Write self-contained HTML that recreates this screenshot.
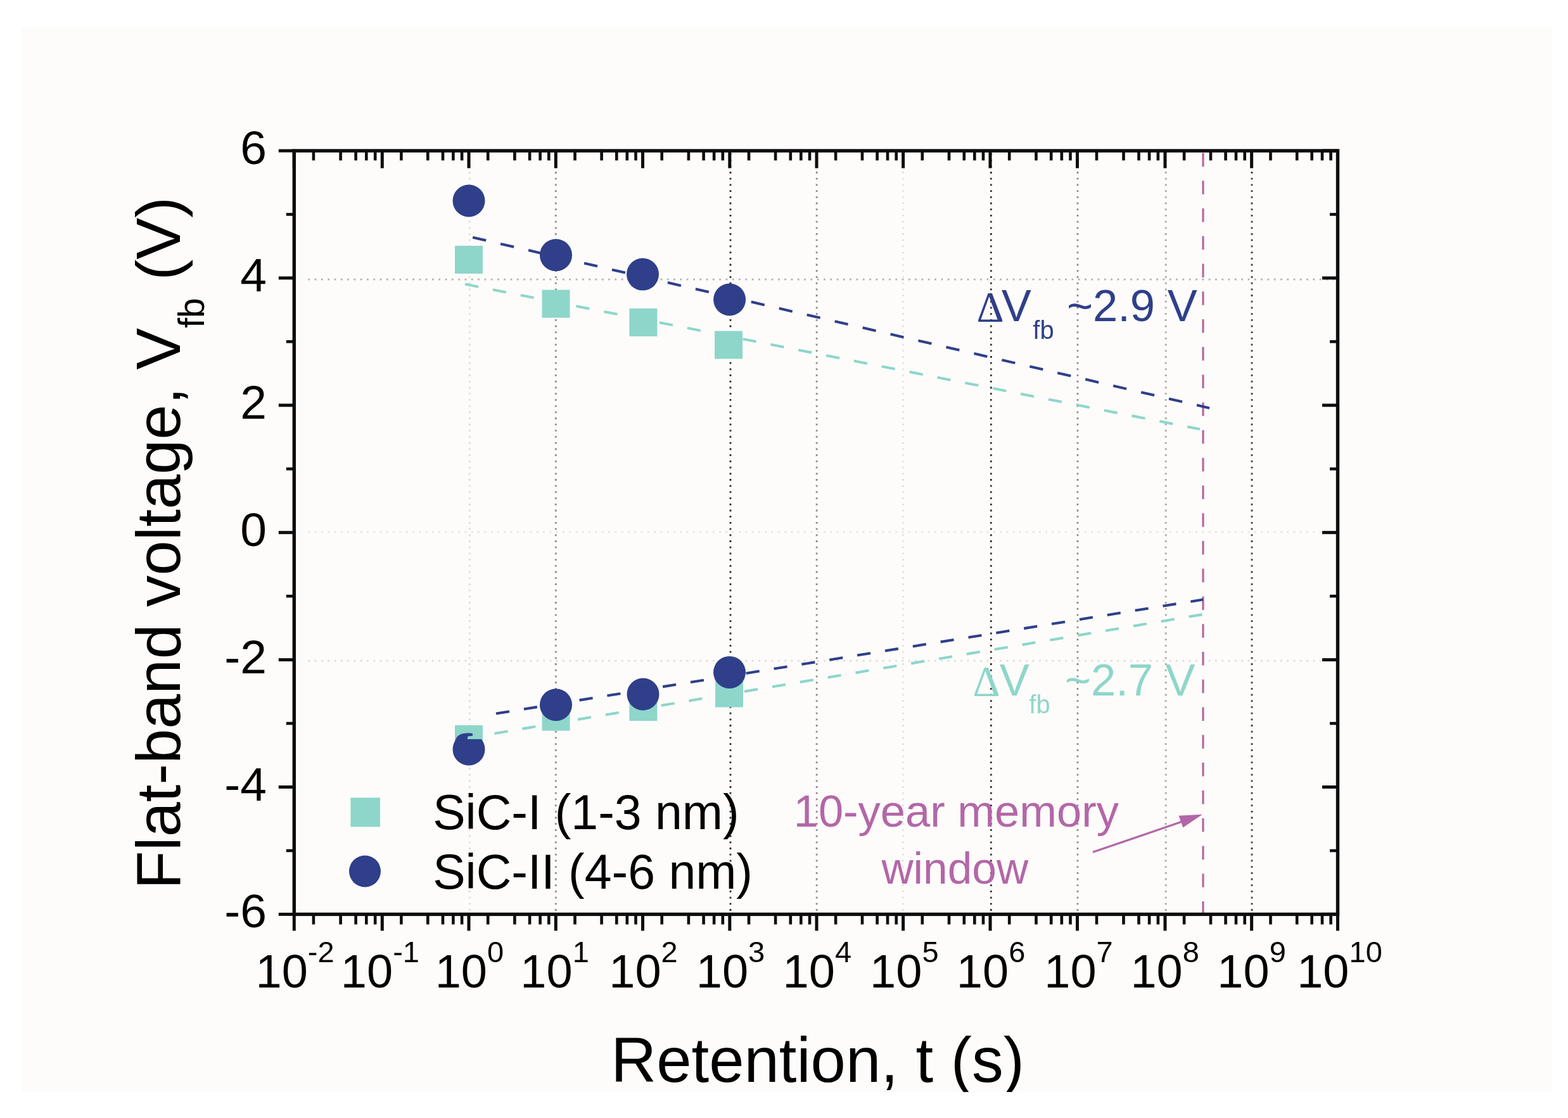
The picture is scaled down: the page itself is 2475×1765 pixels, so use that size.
<!DOCTYPE html>
<html><head><meta charset="utf-8"><title>Flat-band voltage retention</title>
<style>html,body{margin:0;padding:0;background:#fff;}body{width:2475px;height:1765px;overflow:hidden;}svg{display:block;}</style>
</head><body>
<svg width="2475" height="1765" viewBox="0 0 2475 1765">
<defs><clipPath id="pc"><rect x="34" y="43" width="2415" height="1681"/></clipPath></defs>
<rect x="0" y="0" width="2475" height="1765" fill="#ffffff"/>
<rect x="34" y="43" width="2415" height="1681" fill="#fdfcfa"/>
<g clip-path="url(#pc)">
<line x1="741.3" y1="242.0" x2="741.3" y2="1440.4" stroke="#dcdcdc" stroke-width="2.8" stroke-dasharray="2.8 6.9"/>
<line x1="877.3" y1="242.0" x2="877.3" y2="1440.4" stroke="#8c8c8c" stroke-width="2.8" stroke-dasharray="2.8 6.9"/>
<line x1="1153" y1="242.0" x2="1153" y2="1440.4" stroke="#2a2a2a" stroke-width="2.8" stroke-dasharray="2.8 6.9"/>
<line x1="1289.2" y1="242.0" x2="1289.2" y2="1440.4" stroke="#8c8c8c" stroke-width="2.8" stroke-dasharray="2.8 6.9"/>
<line x1="1425.4" y1="242.0" x2="1425.4" y2="1440.4" stroke="#e2e2e2" stroke-width="2.8" stroke-dasharray="2.8 6.9"/>
<line x1="1564.3" y1="242.0" x2="1564.3" y2="1440.4" stroke="#303030" stroke-width="2.8" stroke-dasharray="2.8 6.9"/>
<line x1="1701" y1="242.0" x2="1701" y2="1440.4" stroke="#8c8c8c" stroke-width="2.8" stroke-dasharray="2.8 6.9"/>
<line x1="1840.2" y1="242.0" x2="1840.2" y2="1440.4" stroke="#a8a8a8" stroke-width="2.8" stroke-dasharray="2.8 6.9"/>
<line x1="1976" y1="242.0" x2="1976" y2="1440.4" stroke="#404040" stroke-width="2.8" stroke-dasharray="2.8 6.9"/>
<line x1="486.3" y1="441.1" x2="2108.5" y2="441.1" stroke="#b2b2b2" stroke-width="2.8" stroke-dasharray="2.8 7.5"/>
<line x1="486.3" y1="839.8" x2="2108.5" y2="839.8" stroke="#e4e4e4" stroke-width="2.8" stroke-dasharray="2.8 7.5"/>
<line x1="486.3" y1="1043.2" x2="2108.5" y2="1043.2" stroke="#dcdcdc" stroke-width="2.8" stroke-dasharray="2.8 7.5"/>
<line x1="1899" y1="241.4" x2="1899" y2="1443.4" stroke="#b367a7" stroke-width="3.2" stroke-dasharray="21.5 22.26"/>
<line x1="734" y1="448.6" x2="1894" y2="677.6" stroke="#8ed6ca" stroke-width="4.1" stroke-dasharray="21.41 23.29"/>
<line x1="746.2" y1="374.7" x2="1909" y2="644.2" stroke="#2f3f8a" stroke-width="4.1" stroke-dasharray="21.56 23.56"/>
<line x1="780.5" y1="1158" x2="1900" y2="969.7" stroke="#8ed6ca" stroke-width="4.1" stroke-dasharray="21.29 23.17"/>
<line x1="783" y1="1126.6" x2="1899" y2="946.5" stroke="#2f3f8a" stroke-width="4.1" stroke-dasharray="21.27 23.15"/>
<rect x="718.0" y="388.0" width="44" height="44" fill="#8ed6ca"/>
<rect x="855.5" y="457.6" width="44" height="44" fill="#8ed6ca"/>
<rect x="993.4" y="487.0" width="44" height="44" fill="#8ed6ca"/>
<rect x="1128.0" y="522.5" width="44" height="44" fill="#8ed6ca"/>
<rect x="718.0" y="1145.0" width="44" height="44" fill="#8ed6ca"/>
<rect x="855.5" y="1109.7" width="44" height="44" fill="#8ed6ca"/>
<rect x="993.4" y="1094.0" width="44" height="44" fill="#8ed6ca"/>
<rect x="1129.0" y="1072.5" width="44" height="44" fill="#8ed6ca"/>
<circle cx="740" cy="317" r="25.5" fill="#2f3f8a"/>
<circle cx="877.5" cy="402.7" r="25.5" fill="#2f3f8a"/>
<circle cx="1014.5" cy="433.1" r="25.5" fill="#2f3f8a"/>
<circle cx="1151.6" cy="473" r="25.5" fill="#2f3f8a"/>
<circle cx="740" cy="1183" r="25.5" fill="#2f3f8a"/>
<circle cx="877.5" cy="1112.8" r="25.5" fill="#2f3f8a"/>
<circle cx="1015" cy="1096" r="25.5" fill="#2f3f8a"/>
<circle cx="1151.5" cy="1061.4" r="25.5" fill="#2f3f8a"/>
<rect x="718.1" y="1145.1" width="43.6" height="21.8" fill="#8ed6ca"/>
<path d="M718.6,1172 L719.5,1166 Q723,1160.5 729,1158.6 Q734,1157.3 741,1157.3 L745.8,1158 L746.2,1161.6 L738.6,1162.6 L737.6,1166.9 L718.6,1166.9 Z" fill="#2f3f8a"/>
<g stroke="#0d0d0d" fill="none">
<rect x="464.3" y="238.0" width="1647.2" height="1205.4" stroke-width="5.4"/>
<line x1="439.8" y1="1443.4" x2="464.3" y2="1443.4" stroke-width="5"/>
<line x1="2087.0" y1="1443.4" x2="2111.5" y2="1443.4" stroke-width="5"/>
<line x1="439.8" y1="1242.5" x2="464.3" y2="1242.5" stroke-width="5"/>
<line x1="2087.0" y1="1242.5" x2="2111.5" y2="1242.5" stroke-width="5"/>
<line x1="439.8" y1="1041.6000000000001" x2="464.3" y2="1041.6000000000001" stroke-width="5"/>
<line x1="2087.0" y1="1041.6000000000001" x2="2111.5" y2="1041.6000000000001" stroke-width="5"/>
<line x1="439.8" y1="840.7" x2="464.3" y2="840.7" stroke-width="5"/>
<line x1="2087.0" y1="840.7" x2="2111.5" y2="840.7" stroke-width="5"/>
<line x1="439.8" y1="639.8000000000001" x2="464.3" y2="639.8000000000001" stroke-width="5"/>
<line x1="2087.0" y1="639.8000000000001" x2="2111.5" y2="639.8000000000001" stroke-width="5"/>
<line x1="439.8" y1="438.90000000000003" x2="464.3" y2="438.90000000000003" stroke-width="5"/>
<line x1="2087.0" y1="438.90000000000003" x2="2111.5" y2="438.90000000000003" stroke-width="5"/>
<line x1="439.8" y1="238.0" x2="464.3" y2="238.0" stroke-width="5"/>
<line x1="2087.0" y1="238.0" x2="2111.5" y2="238.0" stroke-width="5"/>
<line x1="451.8" y1="1342.95" x2="464.3" y2="1342.95" stroke-width="4.6"/>
<line x1="2099.0" y1="1342.95" x2="2111.5" y2="1342.95" stroke-width="4.6"/>
<line x1="451.8" y1="1142.0500000000002" x2="464.3" y2="1142.0500000000002" stroke-width="4.6"/>
<line x1="2099.0" y1="1142.0500000000002" x2="2111.5" y2="1142.0500000000002" stroke-width="4.6"/>
<line x1="451.8" y1="941.1500000000001" x2="464.3" y2="941.1500000000001" stroke-width="4.6"/>
<line x1="2099.0" y1="941.1500000000001" x2="2111.5" y2="941.1500000000001" stroke-width="4.6"/>
<line x1="451.8" y1="740.25" x2="464.3" y2="740.25" stroke-width="4.6"/>
<line x1="2099.0" y1="740.25" x2="2111.5" y2="740.25" stroke-width="4.6"/>
<line x1="451.8" y1="539.35" x2="464.3" y2="539.35" stroke-width="4.6"/>
<line x1="2099.0" y1="539.35" x2="2111.5" y2="539.35" stroke-width="4.6"/>
<line x1="451.8" y1="338.45000000000005" x2="464.3" y2="338.45000000000005" stroke-width="4.6"/>
<line x1="2099.0" y1="338.45000000000005" x2="2111.5" y2="338.45000000000005" stroke-width="4.6"/>
<line x1="464.3" y1="238.0" x2="464.3" y2="265.5" stroke-width="5"/>
<line x1="464.3" y1="1443.4" x2="464.3" y2="1469.4" stroke-width="5"/>
<line x1="494.9" y1="238.0" x2="494.9" y2="253.3" stroke-width="4.6"/>
<line x1="494.9" y1="1443.4" x2="494.9" y2="1459.4" stroke-width="4.6"/>
<line x1="537.6" y1="238.0" x2="537.6" y2="253.3" stroke-width="4.6"/>
<line x1="537.6" y1="1443.4" x2="537.6" y2="1459.4" stroke-width="4.6"/>
<line x1="561.6" y1="238.0" x2="561.6" y2="253.3" stroke-width="4.6"/>
<line x1="561.6" y1="1443.4" x2="561.6" y2="1459.4" stroke-width="4.6"/>
<line x1="578.3" y1="238.0" x2="578.3" y2="253.3" stroke-width="4.6"/>
<line x1="578.3" y1="1443.4" x2="578.3" y2="1459.4" stroke-width="4.6"/>
<line x1="592.2" y1="238.0" x2="592.2" y2="253.3" stroke-width="4.6"/>
<line x1="592.2" y1="1443.4" x2="592.2" y2="1459.4" stroke-width="4.6"/>
<line x1="603.3" y1="238.0" x2="603.3" y2="265.5" stroke-width="5"/>
<line x1="603.3" y1="1443.4" x2="603.3" y2="1469.4" stroke-width="5"/>
<line x1="633.4" y1="238.0" x2="633.4" y2="253.3" stroke-width="4.6"/>
<line x1="633.4" y1="1443.4" x2="633.4" y2="1459.4" stroke-width="4.6"/>
<line x1="675.3" y1="238.0" x2="675.3" y2="253.3" stroke-width="4.6"/>
<line x1="675.3" y1="1443.4" x2="675.3" y2="1459.4" stroke-width="4.6"/>
<line x1="699.0" y1="238.0" x2="699.0" y2="253.3" stroke-width="4.6"/>
<line x1="699.0" y1="1443.4" x2="699.0" y2="1459.4" stroke-width="4.6"/>
<line x1="715.4" y1="238.0" x2="715.4" y2="253.3" stroke-width="4.6"/>
<line x1="715.4" y1="1443.4" x2="715.4" y2="1459.4" stroke-width="4.6"/>
<line x1="729.1" y1="238.0" x2="729.1" y2="253.3" stroke-width="4.6"/>
<line x1="729.1" y1="1443.4" x2="729.1" y2="1459.4" stroke-width="4.6"/>
<line x1="740.0" y1="238.0" x2="740.0" y2="265.5" stroke-width="5"/>
<line x1="740.0" y1="1443.4" x2="740.0" y2="1469.4" stroke-width="5"/>
<line x1="770.2" y1="238.0" x2="770.2" y2="253.3" stroke-width="4.6"/>
<line x1="770.2" y1="1443.4" x2="770.2" y2="1459.4" stroke-width="4.6"/>
<line x1="812.4" y1="238.0" x2="812.4" y2="253.3" stroke-width="4.6"/>
<line x1="812.4" y1="1443.4" x2="812.4" y2="1459.4" stroke-width="4.6"/>
<line x1="836.1" y1="238.0" x2="836.1" y2="253.3" stroke-width="4.6"/>
<line x1="836.1" y1="1443.4" x2="836.1" y2="1459.4" stroke-width="4.6"/>
<line x1="852.6" y1="238.0" x2="852.6" y2="253.3" stroke-width="4.6"/>
<line x1="852.6" y1="1443.4" x2="852.6" y2="1459.4" stroke-width="4.6"/>
<line x1="866.3" y1="238.0" x2="866.3" y2="253.3" stroke-width="4.6"/>
<line x1="866.3" y1="1443.4" x2="866.3" y2="1459.4" stroke-width="4.6"/>
<line x1="877.3" y1="238.0" x2="877.3" y2="265.5" stroke-width="5"/>
<line x1="877.3" y1="1443.4" x2="877.3" y2="1469.4" stroke-width="5"/>
<line x1="907.5" y1="238.0" x2="907.5" y2="253.3" stroke-width="4.6"/>
<line x1="907.5" y1="1443.4" x2="907.5" y2="1459.4" stroke-width="4.6"/>
<line x1="949.6" y1="238.0" x2="949.6" y2="253.3" stroke-width="4.6"/>
<line x1="949.6" y1="1443.4" x2="949.6" y2="1459.4" stroke-width="4.6"/>
<line x1="973.3" y1="238.0" x2="973.3" y2="253.3" stroke-width="4.6"/>
<line x1="973.3" y1="1443.4" x2="973.3" y2="1459.4" stroke-width="4.6"/>
<line x1="989.8" y1="238.0" x2="989.8" y2="253.3" stroke-width="4.6"/>
<line x1="989.8" y1="1443.4" x2="989.8" y2="1459.4" stroke-width="4.6"/>
<line x1="1003.5" y1="238.0" x2="1003.5" y2="253.3" stroke-width="4.6"/>
<line x1="1003.5" y1="1443.4" x2="1003.5" y2="1459.4" stroke-width="4.6"/>
<line x1="1014.5" y1="238.0" x2="1014.5" y2="265.5" stroke-width="5"/>
<line x1="1014.5" y1="1443.4" x2="1014.5" y2="1469.4" stroke-width="5"/>
<line x1="1044.7" y1="238.0" x2="1044.7" y2="253.3" stroke-width="4.6"/>
<line x1="1044.7" y1="1443.4" x2="1044.7" y2="1459.4" stroke-width="4.6"/>
<line x1="1086.9" y1="238.0" x2="1086.9" y2="253.3" stroke-width="4.6"/>
<line x1="1086.9" y1="1443.4" x2="1086.9" y2="1459.4" stroke-width="4.6"/>
<line x1="1110.6" y1="238.0" x2="1110.6" y2="253.3" stroke-width="4.6"/>
<line x1="1110.6" y1="1443.4" x2="1110.6" y2="1459.4" stroke-width="4.6"/>
<line x1="1127.1" y1="238.0" x2="1127.1" y2="253.3" stroke-width="4.6"/>
<line x1="1127.1" y1="1443.4" x2="1127.1" y2="1459.4" stroke-width="4.6"/>
<line x1="1140.8" y1="238.0" x2="1140.8" y2="253.3" stroke-width="4.6"/>
<line x1="1140.8" y1="1443.4" x2="1140.8" y2="1459.4" stroke-width="4.6"/>
<line x1="1151.8" y1="238.0" x2="1151.8" y2="265.5" stroke-width="5"/>
<line x1="1151.8" y1="1443.4" x2="1151.8" y2="1469.4" stroke-width="5"/>
<line x1="1182.0" y1="238.0" x2="1182.0" y2="253.3" stroke-width="4.6"/>
<line x1="1182.0" y1="1443.4" x2="1182.0" y2="1459.4" stroke-width="4.6"/>
<line x1="1224.1" y1="238.0" x2="1224.1" y2="253.3" stroke-width="4.6"/>
<line x1="1224.1" y1="1443.4" x2="1224.1" y2="1459.4" stroke-width="4.6"/>
<line x1="1247.8" y1="238.0" x2="1247.8" y2="253.3" stroke-width="4.6"/>
<line x1="1247.8" y1="1443.4" x2="1247.8" y2="1459.4" stroke-width="4.6"/>
<line x1="1264.3" y1="238.0" x2="1264.3" y2="253.3" stroke-width="4.6"/>
<line x1="1264.3" y1="1443.4" x2="1264.3" y2="1459.4" stroke-width="4.6"/>
<line x1="1278.0" y1="238.0" x2="1278.0" y2="253.3" stroke-width="4.6"/>
<line x1="1278.0" y1="1443.4" x2="1278.0" y2="1459.4" stroke-width="4.6"/>
<line x1="1289.0" y1="238.0" x2="1289.0" y2="265.5" stroke-width="5"/>
<line x1="1289.0" y1="1443.4" x2="1289.0" y2="1469.4" stroke-width="5"/>
<line x1="1319.1" y1="238.0" x2="1319.1" y2="253.3" stroke-width="4.6"/>
<line x1="1319.1" y1="1443.4" x2="1319.1" y2="1459.4" stroke-width="4.6"/>
<line x1="1361.0" y1="238.0" x2="1361.0" y2="253.3" stroke-width="4.6"/>
<line x1="1361.0" y1="1443.4" x2="1361.0" y2="1459.4" stroke-width="4.6"/>
<line x1="1384.6" y1="238.0" x2="1384.6" y2="253.3" stroke-width="4.6"/>
<line x1="1384.6" y1="1443.4" x2="1384.6" y2="1459.4" stroke-width="4.6"/>
<line x1="1401.0" y1="238.0" x2="1401.0" y2="253.3" stroke-width="4.6"/>
<line x1="1401.0" y1="1443.4" x2="1401.0" y2="1459.4" stroke-width="4.6"/>
<line x1="1414.7" y1="238.0" x2="1414.7" y2="253.3" stroke-width="4.6"/>
<line x1="1414.7" y1="1443.4" x2="1414.7" y2="1459.4" stroke-width="4.6"/>
<line x1="1425.6" y1="238.0" x2="1425.6" y2="265.5" stroke-width="5"/>
<line x1="1425.6" y1="1443.4" x2="1425.6" y2="1469.4" stroke-width="5"/>
<line x1="1455.8" y1="238.0" x2="1455.8" y2="253.3" stroke-width="4.6"/>
<line x1="1455.8" y1="1443.4" x2="1455.8" y2="1459.4" stroke-width="4.6"/>
<line x1="1498.0" y1="238.0" x2="1498.0" y2="253.3" stroke-width="4.6"/>
<line x1="1498.0" y1="1443.4" x2="1498.0" y2="1459.4" stroke-width="4.6"/>
<line x1="1521.8" y1="238.0" x2="1521.8" y2="253.3" stroke-width="4.6"/>
<line x1="1521.8" y1="1443.4" x2="1521.8" y2="1459.4" stroke-width="4.6"/>
<line x1="1538.3" y1="238.0" x2="1538.3" y2="253.3" stroke-width="4.6"/>
<line x1="1538.3" y1="1443.4" x2="1538.3" y2="1459.4" stroke-width="4.6"/>
<line x1="1552.0" y1="238.0" x2="1552.0" y2="253.3" stroke-width="4.6"/>
<line x1="1552.0" y1="1443.4" x2="1552.0" y2="1459.4" stroke-width="4.6"/>
<line x1="1563.0" y1="238.0" x2="1563.0" y2="265.5" stroke-width="5"/>
<line x1="1563.0" y1="1443.4" x2="1563.0" y2="1469.4" stroke-width="5"/>
<line x1="1593.2" y1="238.0" x2="1593.2" y2="253.3" stroke-width="4.6"/>
<line x1="1593.2" y1="1443.4" x2="1593.2" y2="1459.4" stroke-width="4.6"/>
<line x1="1635.5" y1="238.0" x2="1635.5" y2="253.3" stroke-width="4.6"/>
<line x1="1635.5" y1="1443.4" x2="1635.5" y2="1459.4" stroke-width="4.6"/>
<line x1="1659.2" y1="238.0" x2="1659.2" y2="253.3" stroke-width="4.6"/>
<line x1="1659.2" y1="1443.4" x2="1659.2" y2="1459.4" stroke-width="4.6"/>
<line x1="1675.8" y1="238.0" x2="1675.8" y2="253.3" stroke-width="4.6"/>
<line x1="1675.8" y1="1443.4" x2="1675.8" y2="1459.4" stroke-width="4.6"/>
<line x1="1689.5" y1="238.0" x2="1689.5" y2="253.3" stroke-width="4.6"/>
<line x1="1689.5" y1="1443.4" x2="1689.5" y2="1459.4" stroke-width="4.6"/>
<line x1="1700.5" y1="238.0" x2="1700.5" y2="265.5" stroke-width="5"/>
<line x1="1700.5" y1="1443.4" x2="1700.5" y2="1469.4" stroke-width="5"/>
<line x1="1731.0" y1="238.0" x2="1731.0" y2="253.3" stroke-width="4.6"/>
<line x1="1731.0" y1="1443.4" x2="1731.0" y2="1459.4" stroke-width="4.6"/>
<line x1="1773.5" y1="238.0" x2="1773.5" y2="253.3" stroke-width="4.6"/>
<line x1="1773.5" y1="1443.4" x2="1773.5" y2="1459.4" stroke-width="4.6"/>
<line x1="1797.5" y1="238.0" x2="1797.5" y2="253.3" stroke-width="4.6"/>
<line x1="1797.5" y1="1443.4" x2="1797.5" y2="1459.4" stroke-width="4.6"/>
<line x1="1814.1" y1="238.0" x2="1814.1" y2="253.3" stroke-width="4.6"/>
<line x1="1814.1" y1="1443.4" x2="1814.1" y2="1459.4" stroke-width="4.6"/>
<line x1="1827.9" y1="238.0" x2="1827.9" y2="253.3" stroke-width="4.6"/>
<line x1="1827.9" y1="1443.4" x2="1827.9" y2="1459.4" stroke-width="4.6"/>
<line x1="1839.0" y1="238.0" x2="1839.0" y2="265.5" stroke-width="5"/>
<line x1="1839.0" y1="1443.4" x2="1839.0" y2="1469.4" stroke-width="5"/>
<line x1="1869.1" y1="238.0" x2="1869.1" y2="253.3" stroke-width="4.6"/>
<line x1="1869.1" y1="1443.4" x2="1869.1" y2="1459.4" stroke-width="4.6"/>
<line x1="1911.0" y1="238.0" x2="1911.0" y2="253.3" stroke-width="4.6"/>
<line x1="1911.0" y1="1443.4" x2="1911.0" y2="1459.4" stroke-width="4.6"/>
<line x1="1934.6" y1="238.0" x2="1934.6" y2="253.3" stroke-width="4.6"/>
<line x1="1934.6" y1="1443.4" x2="1934.6" y2="1459.4" stroke-width="4.6"/>
<line x1="1951.0" y1="238.0" x2="1951.0" y2="253.3" stroke-width="4.6"/>
<line x1="1951.0" y1="1443.4" x2="1951.0" y2="1459.4" stroke-width="4.6"/>
<line x1="1964.7" y1="238.0" x2="1964.7" y2="253.3" stroke-width="4.6"/>
<line x1="1964.7" y1="1443.4" x2="1964.7" y2="1459.4" stroke-width="4.6"/>
<line x1="1975.6" y1="238.0" x2="1975.6" y2="265.5" stroke-width="5"/>
<line x1="1975.6" y1="1443.4" x2="1975.6" y2="1469.4" stroke-width="5"/>
<line x1="2005.5" y1="238.0" x2="2005.5" y2="253.3" stroke-width="4.6"/>
<line x1="2005.5" y1="1443.4" x2="2005.5" y2="1459.4" stroke-width="4.6"/>
<line x1="2047.2" y1="238.0" x2="2047.2" y2="253.3" stroke-width="4.6"/>
<line x1="2047.2" y1="1443.4" x2="2047.2" y2="1459.4" stroke-width="4.6"/>
<line x1="2070.7" y1="238.0" x2="2070.7" y2="253.3" stroke-width="4.6"/>
<line x1="2070.7" y1="1443.4" x2="2070.7" y2="1459.4" stroke-width="4.6"/>
<line x1="2087.0" y1="238.0" x2="2087.0" y2="253.3" stroke-width="4.6"/>
<line x1="2087.0" y1="1443.4" x2="2087.0" y2="1459.4" stroke-width="4.6"/>
<line x1="2100.6" y1="238.0" x2="2100.6" y2="253.3" stroke-width="4.6"/>
<line x1="2100.6" y1="1443.4" x2="2100.6" y2="1459.4" stroke-width="4.6"/>
<line x1="2111.5" y1="238.0" x2="2111.5" y2="265.5" stroke-width="5"/>
<line x1="2111.5" y1="1443.4" x2="2111.5" y2="1469.4" stroke-width="5"/>
</g>
<g font-family="'Liberation Sans', Arial, sans-serif" font-size="75" fill="#000" text-anchor="end">
<text x="421" y="1464.4">-6</text>
<text x="421" y="1263.5">-4</text>
<text x="421" y="1062.6">-2</text>
<text x="421" y="861.7">0</text>
<text x="421" y="660.8">2</text>
<text x="421" y="459.9">4</text>
<text x="421" y="259.0">6</text>
</g>
<g font-family="'Liberation Sans', Arial, sans-serif" fill="#000">
<text x="465.6" y="1559" font-size="74" text-anchor="middle">10<tspan font-size="47" dy="-39.8">-2</tspan></text>
<text x="599.9" y="1559" font-size="74" text-anchor="middle">10<tspan font-size="47" dy="-39.8">-1</tspan></text>
<text x="740.9" y="1559" font-size="74" text-anchor="middle">10<tspan font-size="47" dy="-39.8">0</tspan></text>
<text x="875.6" y="1559" font-size="74" text-anchor="middle">10<tspan font-size="47" dy="-39.8">1</tspan></text>
<text x="1015.5" y="1559" font-size="74" text-anchor="middle">10<tspan font-size="47" dy="-39.8">2</tspan></text>
<text x="1153.0" y="1559" font-size="74" text-anchor="middle">10<tspan font-size="47" dy="-39.8">3</tspan></text>
<text x="1289.8" y="1559" font-size="74" text-anchor="middle">10<tspan font-size="47" dy="-39.8">4</tspan></text>
<text x="1427.3" y="1559" font-size="74" text-anchor="middle">10<tspan font-size="47" dy="-39.8">5</tspan></text>
<text x="1564.1" y="1559" font-size="74" text-anchor="middle">10<tspan font-size="47" dy="-39.8">6</tspan></text>
<text x="1702.5" y="1559" font-size="74" text-anchor="middle">10<tspan font-size="47" dy="-39.8">7</tspan></text>
<text x="1838.7" y="1559" font-size="74" text-anchor="middle">10<tspan font-size="47" dy="-39.8">8</tspan></text>
<text x="1975.6" y="1559" font-size="74" text-anchor="middle">10<tspan font-size="47" dy="-39.8">9</tspan></text>
<text x="2114.5" y="1559" font-size="74" text-anchor="middle">10<tspan font-size="47" dy="-39.8">10</tspan></text>
</g>
<text font-family="'Liberation Sans', Arial, sans-serif" font-size="99.5" fill="#000" x="964.3" y="1708">Retention, t (s)</text>
<text font-family="'Liberation Sans', Arial, sans-serif" font-size="99" fill="#000" transform="translate(284.4,1403.8) rotate(-90)">Flat-band voltage, V<tspan font-size="57" dy="38">fb</tspan><tspan dy="-38"> (V)</tspan></text>
<rect x="553.4" y="1259.3" width="46.6" height="46" fill="#8ed6ca"/>
<circle cx="576" cy="1375.5" r="25" fill="#2f3f8a"/>
<text font-family="'Liberation Sans', Arial, sans-serif" font-size="77" fill="#000" x="683.2" y="1309">SiC-I (1-3 nm)</text>
<text font-family="'Liberation Sans', Arial, sans-serif" font-size="77" fill="#000" x="683.2" y="1402.6">SiC-II (4-6 nm)</text>
<text font-family="'Liberation Serif', serif" font-size="67" fill="#2f3f8a" x="1541.5" y="507.3">Δ</text>
<text font-family="'Liberation Sans', Arial, sans-serif" font-size="70.5" fill="#2f3f8a" x="1580.8" y="507.3">V<tspan font-size="40" x="1630.3" y="535.2">fb</tspan><tspan x="1683.9" y="507.3">~2.9 V</tspan></text>
<text font-family="'Liberation Serif', serif" font-size="67" fill="#8ed6ca" x="1535.5" y="1098">Δ</text>
<text font-family="'Liberation Sans', Arial, sans-serif" font-size="70.5" fill="#8ed6ca" x="1577.8" y="1098">V<tspan font-size="40" x="1624.3" y="1126">fb</tspan><tspan x="1680.8" y="1098">~2.7 V</tspan></text>
<text font-family="'Liberation Sans', Arial, sans-serif" font-size="70.5" fill="#b367a7" x="1252.7" y="1305.3">10-year memory</text>
<text font-family="'Liberation Sans', Arial, sans-serif" font-size="69.5" fill="#b367a7" x="1391.4" y="1394.5">window</text>
<line x1="1725" y1="1345.3" x2="1866" y2="1297" stroke="#b367a7" stroke-width="3.3"/>
<polygon points="1898,1285.8 1860.5,1287.8 1867.3,1306.6" fill="#b367a7"/>
</g>
</svg>
</body></html>
